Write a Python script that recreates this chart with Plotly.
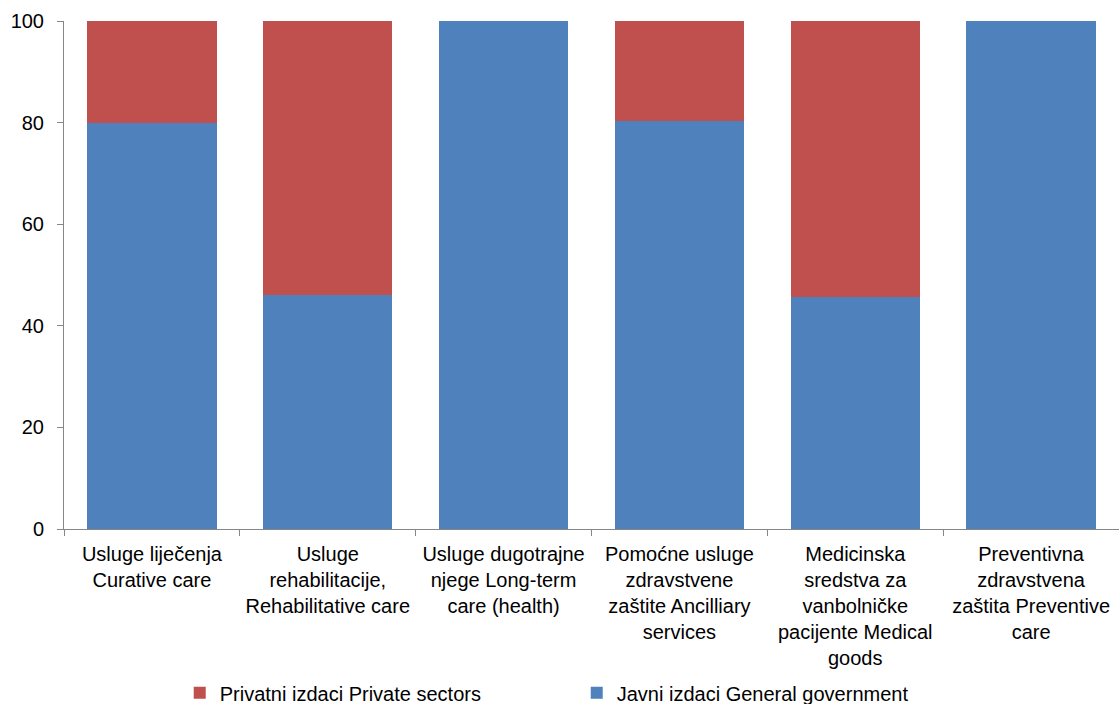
import plotly.graph_objects as go

categories = [
    "Usluge liječenja<br>Curative care",
    "Usluge<br>rehabilitacije,<br>Rehabilitative care",
    "Usluge dugotrajne<br>njege Long-term<br>care (health)",
    "Pomoćne usluge<br>zdravstvene<br>zaštite Ancilliary<br>services",
    "Medicinska<br>sredstva za<br>vanbolničke<br>pacijente Medical<br>goods",
    "Preventivna<br>zdravstvena<br>zaštita Preventive<br>care",
]
public_vals = [79.9, 46.1, 100, 80.4, 45.7, 100]
private_vals = [20.1, 53.9, 0, 19.6, 54.3, 0]
y_ticks = [0, 20, 40, 60, 80, 100]

fig = go.Figure()
fig.add_trace(go.Bar(
    x=categories, y=public_vals, name="Javni izdaci General government",
    marker=dict(color="#4F81BD", line=dict(width=0)),
))
fig.add_trace(go.Bar(
    x=categories, y=private_vals, name="Privatni izdaci Private sectors",
    marker=dict(color="#C0504D", line=dict(width=0)),
))

fig.update_layout(
    barmode="stack",
    bargap=0.265,
    width=1119, height=704,
    margin=dict(l=64, r=0, t=21, b=175),
    plot_bgcolor="white", paper_bgcolor="white",
    font=dict(family="Liberation Sans, Arial, sans-serif", size=20, color="#000000"),
    showlegend=True,
    legend=dict(orientation="h", x=0.486, xanchor="center",
                yref="container", y=0.016, yanchor="middle",
                traceorder="reversed", font=dict(size=20), itemwidth=30,
                entrywidth=352, entrywidthmode="pixels"),
    xaxis=dict(showline=True, linecolor="#868686", linewidth=1, ticks="outside",
               tickson="boundaries", ticklen=6, tickcolor="#868686",
               showgrid=False, tickfont=dict(size=20), automargin=False,
               ticklabelstandoff=7),
    yaxis=dict(range=[0, 100], tickvals=y_ticks, showline=True, linecolor="#868686",
               linewidth=1, ticks="outside", ticklen=6, tickcolor="#868686",
               showgrid=False, zeroline=False, tickfont=dict(size=20), automargin=False,
               ticklabelstandoff=9),
)
fig.write_html("out.html", config={"displayModeBar": False},
               post_script="document.body.style.margin='0';document.body.style.overflow='hidden';")
